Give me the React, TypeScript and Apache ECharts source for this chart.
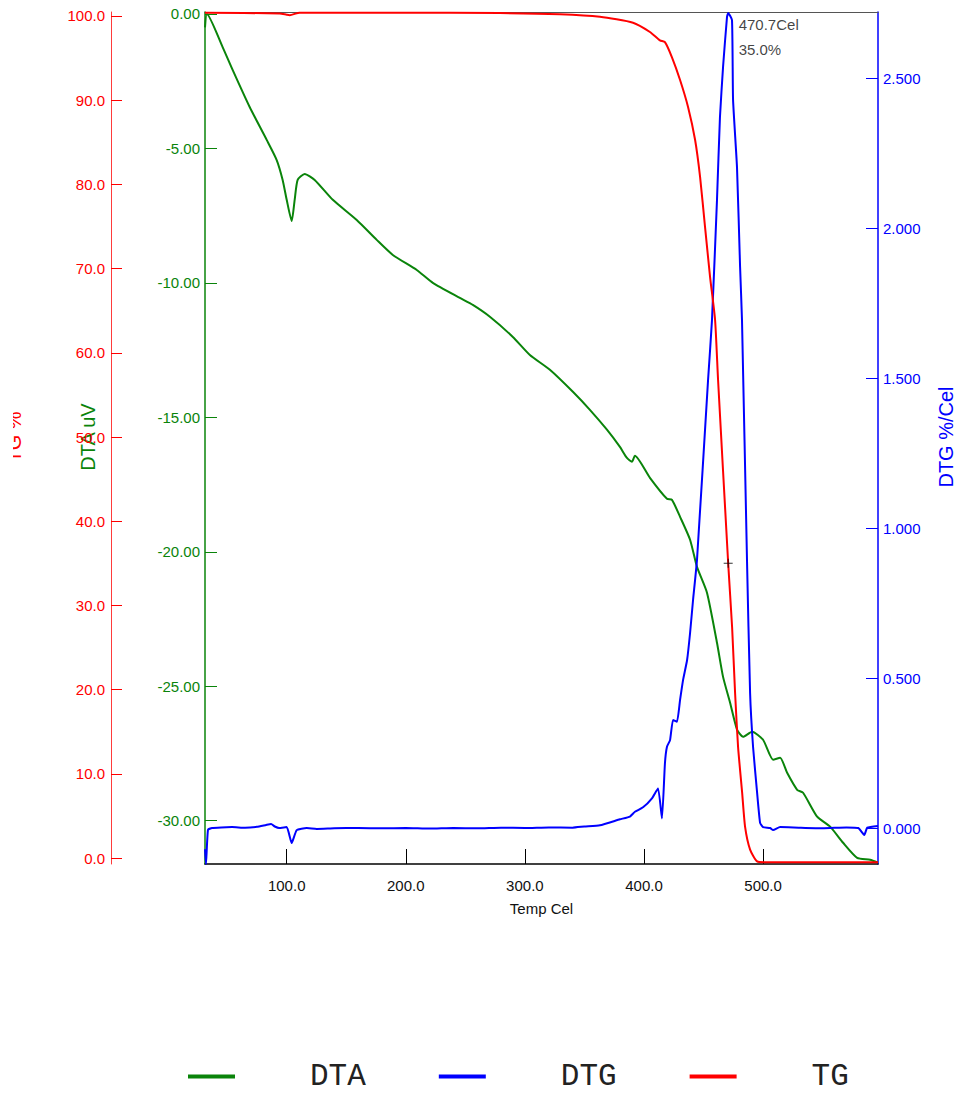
import React, { useEffect, useRef } from "react";
import * as echarts from "echarts";

// ---------- data ----------
const tempTicks = [100, 200, 300, 400, 500];
const dtaTicks = [0, -5, -10, -15, -20, -25, -30];
const tgTicks = [0, 10, 20, 30, 40, 50, 60, 70, 80, 90, 100];
const dtgTicks = [0, 0.5, 1, 1.5, 2, 2.5];

const dtaTemp = [31.4, 33, 46.2, 54.6, 68.9, 83.2, 91.6, 96.6, 100.0, 104.2, 106.7, 109.2, 115.1, 123.5, 138.7, 158.8, 175.6, 189.1, 209.2, 222.7, 245.4, 256.3, 270.6, 289.9, 304.2, 321.0, 340.3, 354.6, 368.9, 379.8, 385.7, 389.9, 392.4, 405.0, 419.3, 423.5, 430.3, 438.7, 444.5, 452.9, 461.3, 466.4, 472.3, 478.2, 483.2, 490.8, 500.0, 508.4, 514.3, 520.2, 528.6, 533.6, 545.4, 556.3, 567.2, 579.0, 589.9, 596.5];
const dtaValues = [-0.5, 0.0, -1.23, -2.08, -3.46, -4.68, -5.43, -6.17, -6.91, -7.7, -6.91, -6.17, -5.95, -6.17, -6.91, -7.66, -8.4, -8.96, -9.52, -10.0, -10.56, -10.82, -11.26, -12.01, -12.68, -13.23, -14.05, -14.72, -15.46, -16.1, -16.51, -16.65, -16.43, -17.25, -18.03, -18.07, -18.7, -19.55, -20.56, -21.52, -23.38, -24.65, -25.61, -26.62, -26.88, -26.69, -26.99, -27.73, -27.66, -28.22, -28.85, -28.96, -29.85, -30.22, -30.82, -31.38, -31.45, -31.56];

const tgTemp = [31.4, 94.1, 100, 102.5, 110.9, 195, 279, 329.4, 363, 390.8, 405, 413.4, 417.6, 423.5, 430.3, 437, 442.9, 447.1, 451.3, 455.5, 459.7, 462.2, 470.7, 474, 476.5, 479, 482.4, 484.9, 489.1, 495, 501.7, 596.5];
const tgValues = [100.4, 100.3, 100.15, 100.1, 100.4, 100.4, 100.35, 100.2, 99.9, 99.2, 98.1, 97.1, 96.9, 95.1, 92.4, 89.2, 85.3, 80.9, 74.9, 69.0, 63.9, 56.8, 35.0, 27.4, 19.6, 13.2, 7.8, 3.7, 1.0, -0.4, -0.5, -0.5];

const dtgTemp = [31.4, 32.2, 33.9, 37.3, 45, 54.1, 65, 75, 82.7, 86.9, 90, 93.6, 100, 104.2, 108.4, 116.8, 125.2, 140, 160, 180, 200, 220, 240, 260, 280, 300, 320, 340, 350, 363, 379.8, 388.2, 392.4, 399.2, 406.7, 411.8, 415.1, 417.6, 419.3, 421.9, 424.4, 427.7, 430.3, 432.8, 436.2, 438.7, 441.2, 444.5, 453.8, 457.1, 461.3, 463.8, 466.4, 469.7, 470.7, 473.9, 474.8, 478.1, 480.7, 482.3, 486.5, 489.1, 491.6, 495.0, 497.5, 500.0, 505.9, 508.4, 514.3, 530, 550, 570, 580, 585.0, 587.5, 596.5];
const dtgValues = [-0.07, -0.12, -0.005, 0.001, 0.003, 0.004, 0.002, 0.005, 0.011, 0.014, 0.006, 0.001, 0.004, -0.049, -0.006, 0.001, -0.002, 0.0, 0.001, 0.0, 0.001, -0.001, 0.001, 0.0, 0.002, 0.001, 0.003, 0.002, 0.006, 0.01, 0.03, 0.039, 0.055, 0.07, 0.1, 0.133, 0.033, 0.217, 0.272, 0.294, 0.361, 0.355, 0.428, 0.494, 0.561, 0.651, 0.761, 0.894, 1.494, 1.694, 2.094, 2.371, 2.538, 2.704, 2.718, 2.694, 2.428, 2.204, 1.871, 1.694, 0.894, 0.451, 0.271, 0.118, 0.018, 0.004, 0.001, -0.006, 0.004, 0.002, 0.0, 0.003, 0.001, -0.022, 0.002, 0.008];

const markerTemp = 470.7;
const markerTG = 35.0;
const peakDTG = 2.718;

const seriesNames = ["DTA", "DTG", "TG"];

const GREEN = "#0a840a";
const BLUE = "#0000ff";
const RED = "#ff0000";

function pairs(xs: number[], ys: number[]) {
  return xs.map((x, i) => [x, ys[i]]);
}

function hasFont(name: string): boolean {
  try {
    const ctx = document.createElement("canvas").getContext("2d");
    if (!ctx) return false;
    const t = "DTG %/Cel 2.500 mmmwwwiii";
    ctx.font = "40px monospace";
    const a = ctx.measureText(t).width;
    ctx.font = `40px '${name}', monospace`;
    const b = ctx.measureText(t).width;
    return Math.abs(a - b) > 0.5;
  } catch (e) {
    return false;
  }
}

export default function App() {
  const ref = useRef<HTMLDivElement>(null);
  useEffect(() => {
    if (!ref.current) return;
    const narrow = hasFont("Liberation Sans Narrow");
    const FONT = narrow ? "'Liberation Sans Narrow', 'Liberation Sans', sans-serif" : "'Liberation Sans', Arial, sans-serif";
    const tickSize = narrow ? 18 : 15;
    const titleSize = narrow ? 24 : 20;

    const chart = echarts.init(ref.current, undefined, { renderer: "svg" });
    const xMin = 31.4, xMax = 596.5;
    const option: any = {
      animation: false,
      backgroundColor: "#ffffff",
      grid: { left: 205, right: 81, top: 12, bottom: 231 },
      xAxis: [
        {
          type: "value",
          min: xMin,
          max: xMax,
          position: "bottom",
          name: "Temp Cel",
          nameLocation: "middle",
          nameGap: 37,
          nameTextStyle: { fontFamily: FONT, fontSize: tickSize, color: "#111" },
          axisLine: { show: true, onZero: false, lineStyle: { color: "#000", width: 1.5 } },
          axisTick: { show: true, inside: true, length: 15, lineStyle: { color: "#000" }, customValues: tempTicks },
          axisLabel: { show: true, margin: 14, fontFamily: FONT, fontSize: tickSize, color: "#111", customValues: tempTicks, formatter: (v: number) => v.toFixed(1) },
          splitLine: { show: false },
        },
        {
          type: "value",
          min: xMin,
          max: xMax,
          position: "top",
          axisLine: { show: true, onZero: false, lineStyle: { color: "#555", width: 1.2 } },
          axisTick: { show: false },
          axisLabel: { show: false },
          splitLine: { show: false },
        },
      ],
      yAxis: [
        {
          type: "value",
          min: -31.61,
          max: 0.074,
          position: "left",
          axisLine: { show: true, onZero: false, lineStyle: { color: GREEN, width: 1.5 } },
          axisTick: { show: true, inside: true, length: 12, lineStyle: { color: GREEN }, customValues: dtaTicks },
          axisLabel: { show: true, margin: 5, fontFamily: FONT, fontSize: tickSize, color: GREEN, customValues: dtaTicks, formatter: (v: number) => v.toFixed(2) },
          splitLine: { show: false },
        },
        {
          type: "value",
          min: -0.71,
          max: 100.475,
          position: "left",
          offset: 94,
          axisLine: { show: true, onZero: false, lineStyle: { color: "#ff3b3b", width: 1 } },
          axisTick: { show: true, inside: true, length: 11, lineStyle: { color: RED }, customValues: tgTicks },
          axisLabel: { show: true, margin: 6, fontFamily: FONT, fontSize: tickSize, color: RED, customValues: tgTicks, formatter: (v: number) => v.toFixed(1) },
          splitLine: { show: false },
        },
        {
          type: "value",
          min: -0.119,
          max: 2.721,
          position: "right",
          axisLine: { show: true, onZero: false, lineStyle: { color: BLUE, width: 1.5 } },
          axisTick: { show: true, inside: true, length: 12, lineStyle: { color: BLUE }, customValues: dtgTicks },
          axisLabel: { show: true, margin: 5, fontFamily: FONT, fontSize: tickSize, color: BLUE, customValues: dtgTicks, formatter: (v: number) => v.toFixed(3) },
          splitLine: { show: false },
        },
      ],
      legend: {
        data: seriesNames,
        selectedMode: false,
        left: 188,
        top: 1061,
        padding: 0,
        icon: "rect",
        itemWidth: 47,
        itemHeight: 4,
        itemGap: 73,
        textStyle: { fontFamily: "'Liberation Mono', 'Courier New', monospace", fontSize: 31, lineHeight: 30, color: "#222", padding: [0, 0, 0, 70] },
      },
      graphic: [
        { type: "text", x: 88, y: 437, rotation: Math.PI / 2, style: { text: "DTA uV", fill: GREEN, font: `${titleSize}px ${FONT}`, align: "center", verticalAlign: "middle" } },
        { type: "text", x: 946, y: 437, rotation: Math.PI / 2, style: { text: "DTG %/Cel", fill: BLUE, font: `${titleSize}px ${FONT}`, align: "center", verticalAlign: "middle" } },
        { type: "text", x: 24, y: 437, rotation: Math.PI / 2, style: { text: "TG %", fill: RED, font: `${titleSize}px ${FONT}`, align: "center", verticalAlign: "bottom" } },
        { type: "rect", shape: { x: 0, y: 395, width: 13, height: 85 }, style: { fill: "#ffffff" }, z: 10 },
      ],
      series: [
        {
          name: "DTA",
          type: "line",
          xAxisIndex: 0,
          yAxisIndex: 0,
          data: pairs(dtaTemp, dtaValues),
          showSymbol: false,
          smooth: 0.2,
          lineStyle: { color: GREEN, width: 2 },
          itemStyle: { color: GREEN },
        },
        {
          name: "DTG",
          type: "line",
          xAxisIndex: 0,
          yAxisIndex: 2,
          data: pairs(dtgTemp, dtgValues),
          showSymbol: false,
          smooth: 0.15,
          lineStyle: { color: BLUE, width: 2 },
          itemStyle: { color: BLUE },
        },
        {
          name: "TG",
          type: "line",
          xAxisIndex: 0,
          yAxisIndex: 1,
          data: pairs(tgTemp, tgValues),
          showSymbol: false,
          smooth: 0.2,
          lineStyle: { color: RED, width: 2 },
          itemStyle: { color: RED },
        },
        {
          name: "marker",
          type: "scatter",
          xAxisIndex: 0,
          yAxisIndex: 1,
          data: [[markerTemp, markerTG]],
          symbol: "path://M4,0H5V4H9V5H5V9H4V5H0V4H4Z",
          symbolSize: 9,
          itemStyle: { color: "#000" },
          z: 5,
        },
        {
          name: "annotation",
          type: "scatter",
          xAxisIndex: 0,
          yAxisIndex: 2,
          data: [[markerTemp, peakDTG]],
          symbolSize: 1,
          itemStyle: { color: "rgba(0,0,0,0)" },
          label: {
            show: true,
            position: [11, 0],
            align: "left",
            verticalAlign: "top",
            fontFamily: FONT,
            fontSize: tickSize,
            lineHeight: 25,
            color: "#111",
            formatter: () => `${markerTemp.toFixed(1)}Cel\n${markerTG.toFixed(1)}%`,
          },
          z: 5,
        },
      ],
    };
    chart.setOption(option);
    return () => chart.dispose();
  }, []);
  return <div ref={ref} style={{ position: "fixed", left: 0, top: 0, width: 959, height: 1095, background: "#fff" }} />;
}
